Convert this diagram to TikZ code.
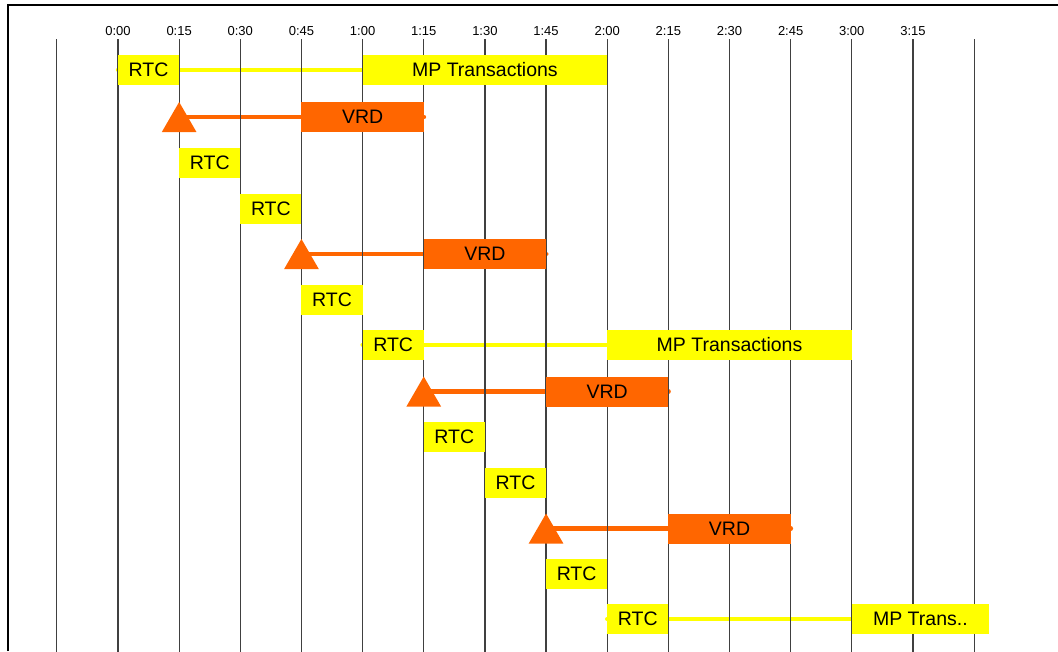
\documentclass[tikz,border=0pt]{standalone}
\usepackage{fontspec}
\setmainfont{Liberation Sans}
\usetikzlibrary{shapes.geometric,backgrounds}
\definecolor{ylw}{HTML}{FFFF00}
\definecolor{org}{HTML}{FF6600}
\tikzset{
  tick/.style={font=\fontsize{13}{15}\selectfont, inner sep=0pt},
  grid/.style={draw=black!75, line width=1.2pt},
  rtcbox/.style={fill=ylw, minimum height=30pt, minimum width=61.15pt, inner sep=0pt, font=\fontsize{19.5}{22}\selectfont},
  mpbox/.style={fill=ylw, minimum height=30pt, inner sep=0pt, font=\fontsize{19.5}{22}\selectfont},
  vrdbox/.style={fill=org, minimum height=30pt, minimum width=122.3pt, inner sep=0pt, font=\fontsize{19.5}{22}\selectfont},
  tri/.style={regular polygon, regular polygon sides=3, fill=org, minimum size=40pt, inner sep=0pt, outer sep=0pt},
  yline/.style={draw=ylw, line width=4pt, line cap=round},
  oline/.style={draw=org, line width=4.5pt, line cap=round},
}
\begin{document}
\begin{tikzpicture}[x=1pt,y=-1pt]
\useasboundingbox (0,0) rectangle (1058,651);
% frame
\draw[line width=2.5pt] (8,651) -- (8,5) -- (1060,5);
% grid lines
\foreach \i in {-1,...,14} \draw[grid] ({118+61.15*\i},39) -- ({118+61.15*\i},652);
% tick labels
\foreach \i/\t in {0/0:00,1/0:15,2/0:30,3/0:45,4/1:00,5/1:15,6/1:30,7/1:45,8/2:00,9/2:15,10/2:30,11/2:45,12/3:00,13/3:15}
  \node[tick] (t\i) at ({118+61.15*\i},31.5) {\t};
% row 0
\node[rtcbox] (r0) at ({118+61.15*0.5},69.5) {RTC};
\node[mpbox, minimum width=244.6pt] (m0) at ({118+61.15*6},69.5) {MP Transactions};
% row 1
\node[vrdbox] (v1) at ({118+61.15*4},117) {VRD};
\node[tri] (a1) at ({118+61.15*1},122) {};
% row 2,3
\node[rtcbox] (r2) at ({118+61.15*1.5},163) {RTC};
\node[rtcbox] (r3) at ({118+61.15*2.5},208.5) {RTC};
% row 4
\node[vrdbox] (v4) at ({118+61.15*6},254) {VRD};
\node[tri] (a4) at ({118+61.15*3},259) {};
% row 5
\node[rtcbox] (r5) at ({118+61.15*3.5},299.5) {RTC};
% row 6
\node[rtcbox] (r6) at ({118+61.15*4.5},344.5) {RTC};
\node[mpbox, minimum width=244.6pt] (m6) at ({118+61.15*10},344.5) {MP Transactions};
% row 7
\node[vrdbox] (v7) at ({118+61.15*8},391.5) {VRD};
\node[tri] (a7) at ({118+61.15*5},396.5) {};
% row 8,9
\node[rtcbox] (r8) at ({118+61.15*5.5},437) {RTC};
\node[rtcbox] (r9) at ({118+61.15*6.5},483) {RTC};
% row 10
\node[vrdbox] (v10) at ({118+61.15*10},528.5) {VRD};
\node[tri] (a10) at ({118+61.15*7},533.5) {};
% row 11
\node[rtcbox] (r11) at ({118+61.15*7.5},574) {RTC};
% row 12
\node[rtcbox] (r12) at ({118+61.15*8.5},619) {RTC};
\node[mpbox, minimum width=137pt] (m12) at (920.4,619) {MP Trans..};
% connectors
\begin{scope}[on background layer]
\draw[yline] (r0.west) -- (m0.west);
\draw[yline] (r6.west) -- (m6.west);
\draw[yline] (r12.west) -- (m12.west);
\draw[oline] (v1.east) -- (v1.east -| a1.center);
\draw[oline] (v4.east) -- (v4.east -| a4.center);
\draw[oline] (v7.east) -- (v7.east -| a7.center);
\draw[oline] (v10.east) -- (v10.east -| a10.center);
\end{scope}
\end{tikzpicture}
\end{document}
